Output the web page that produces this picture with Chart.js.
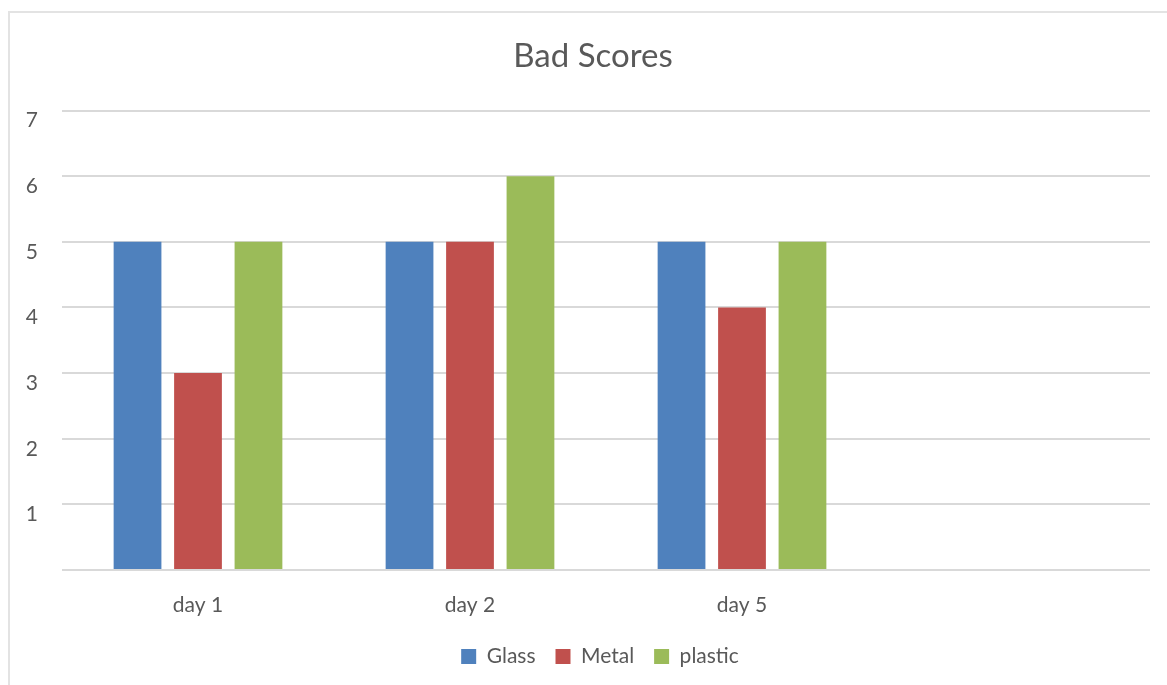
<!DOCTYPE html>
<html>
<head>
<meta charset="utf-8">
<script src="https://cdn.jsdelivr.net/npm/chart.js@4.4.0/dist/chart.umd.min.js"></script>
<style>
  html, body { margin: 0; padding: 0; background: #ffffff; }
  #wrap { position: relative; width: 1167px; height: 685px; overflow: hidden; }
  #frame { position: absolute; left: 8px; top: 11px; width: 1200px; height: 700px;
           border-left: 2px solid #e3e3e3; border-top: 2px solid #e3e3e3; pointer-events: none; }
  canvas { position: absolute; left: 0; top: 0; }
</style>
</head>
<body>
<div id="wrap">
  <canvas id="c" width="1167" height="685"></canvas>
  <div id="frame"></div>
</div>
<script>
const categories = ['day 1', 'day 2', 'day 5', ''];
const glass = [5, 5, 5];
const metal = [3, 5, 4];
const plastic = [5, 6, 5];
const yTicks = [1, 2, 3, 4, 5, 6, 7];

const textColor = '#595959';
const fontFamily = 'Lato, Carlito, "Open Sans", sans-serif';

// shift title/legend boxes so they are centred on the outer frame like the reference
const centreShift = {
  id: 'centreShift',
  afterLayout(chart) {
    const t = chart.titleBlock;
    if (t) { t.left += 8; t.right += 8; }
    const l = chart.legend;
    if (l) { l.left += 15; l.right += 15; }
  }
};

new Chart(document.getElementById('c'), {
  type: 'bar',
  data: {
    labels: categories,
    datasets: [
      { label: 'Glass', data: glass, backgroundColor: '#4F81BD' },
      { label: 'Metal', data: metal, backgroundColor: '#C0504D' },
      { label: 'plastic', data: plastic, backgroundColor: '#9BBB59' }
    ]
  },
  plugins: [centreShift],
  options: {
    responsive: false,
    animation: false,
    layout: { padding: { left: 20, right: 17, top: 0, bottom: 8 } },
    datasets: { bar: { categoryPercentage: 0.667, barPercentage: 0.79 } },
    plugins: {
      title: {
        display: true,
        text: 'Bad Scores',
        color: textColor,
        font: { family: fontFamily, size: 33, weight: 'normal' },
        padding: { top: 37, bottom: 34 }
      },
      legend: {
        position: 'bottom',
        labels: {
          color: textColor,
          font: { family: fontFamily, size: 21 },
          boxWidth: 15, boxHeight: 15,
          padding: 20
        }
      },
      tooltip: { enabled: false }
    },
    scales: {
      x: {
        afterFit: (s) => { s.height = 56; },
        grid: { display: false, drawTicks: false },
        border: { display: false },
        ticks: { color: textColor, font: { family: fontFamily, size: 21 }, padding: 23 }
      },
      y: {
        min: 0, max: 7,
        afterFit: (s) => { s.width = 42; },
        grid: { color: '#d9d9d9', lineWidth: 2, drawTicks: false },
        border: { display: false },
        ticks: {
          stepSize: 1,
          color: textColor,
          font: { family: fontFamily, size: 21 },
          padding: 24,
          labelOffset: 10,
          callback: (v) => yTicks.includes(v) ? String(v) : ''
        }
      }
    }
  }
});
</script>
</body>
</html>
